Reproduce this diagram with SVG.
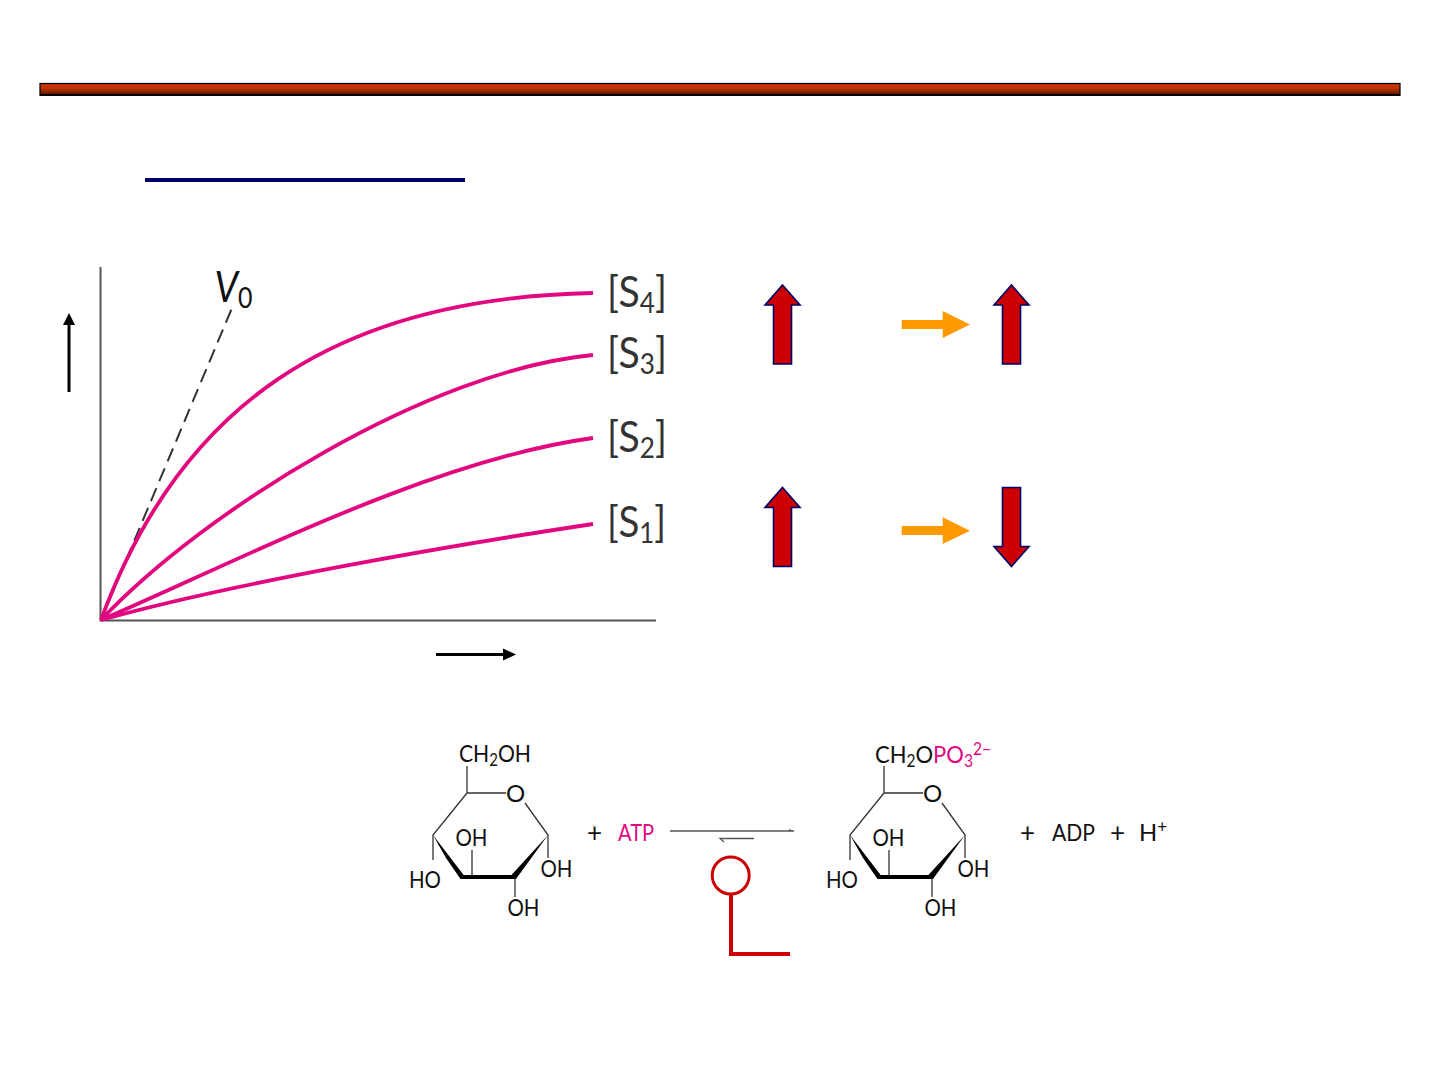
<svg xmlns="http://www.w3.org/2000/svg" width="1440" height="1080" viewBox="0 0 1440 1080">
<style>
.t{font-family:Lato,"Noto Sans","Liberation Sans",sans-serif;fill:#111}
.s{font-size:42px;fill:#333}
.c{font-size:24px}
.curve{fill:none;stroke:#e2067f;stroke-width:3.800}
.axis{fill:none;stroke:#555;stroke-width:2}
.bond{fill:none;stroke:#333;stroke-width:1.300}
.bold{fill:none;stroke:#000;stroke-width:4;stroke-linejoin:round}
.red{fill:#cc0000;stroke:#000066;stroke-width:1.600}
.or{fill:#ff9900}
</style>
<defs>
<linearGradient id="barG" x1="0" y1="0" x2="0" y2="1"><stop offset="0" stop-color="#cc3300"/><stop offset="0.4" stop-color="#c83200"/><stop offset="1" stop-color="#5a1e00"/></linearGradient>
<g id="ring">
<path class="bond" d="M467 766V793H506M525 803L548 835V858M467 793L433 835V860M515 877V897M472 850V877"/>
<path fill="#000" d="M433 835L464 875.500V879H460.500L446 858ZM548 835L516 879L511 875.500Z"/>
<path class="bold" d="M462 877H515"/>
<text class="t c" x="506" y="802">O</text>
<text class="t c" x="455.500" y="846" textLength="32" lengthAdjust="spacingAndGlyphs">OH</text>
<text class="t c" x="409" y="888" textLength="32" lengthAdjust="spacingAndGlyphs">HO</text>
<text class="t c" x="540.500" y="877" textLength="32" lengthAdjust="spacingAndGlyphs">OH</text>
<text class="t c" x="507.500" y="916" textLength="32" lengthAdjust="spacingAndGlyphs">OH</text>
</g>
</defs>
<g id="title-bar"><rect x="40" y="83.500" width="1360" height="11" fill="url(#barG)" stroke="#000" stroke-width="1.200"/><rect x="39.500" y="94" width="1361" height="2" fill="#000"/></g>
<rect id="title-rule" x="145" y="178" width="320" height="4" fill="#000066"/>
<g id="graph">
<path class="axis" d="M100.500 267V620.500H656"/>
<path d="M101 620L232 308" fill="none" stroke="#333" stroke-width="2" stroke-dasharray="14 7.500"/>
<path class="curve" d="M101 620C178 410 330 298 593 293"/>
<path class="curve" d="M101 620C205 510 430 370 593 355"/>
<path class="curve" d="M101 620C230 565 430 460 593 438"/>
<path class="curve" d="M101 620C230 584 440 547 593 524"/>
<text class="t" x="214.500" y="302" font-size="42" font-style="italic" fill="#333" textLength="38" lengthAdjust="spacingAndGlyphs">V<tspan font-size="28" font-style="normal" dy="6">0</tspan></text>
<text class="t s" x="607" y="306.500" textLength="60" lengthAdjust="spacingAndGlyphs">[S<tspan font-size="28" dy="6">4</tspan><tspan dy="-6">]</tspan></text>
<text class="t s" x="607" y="367.500" textLength="60" lengthAdjust="spacingAndGlyphs">[S<tspan font-size="28" dy="6">3</tspan><tspan dy="-6">]</tspan></text>
<text class="t s" x="607" y="451.500" textLength="60" lengthAdjust="spacingAndGlyphs">[S<tspan font-size="28" dy="6">2</tspan><tspan dy="-6">]</tspan></text>
<text class="t s" x="607" y="536.500" textLength="59" lengthAdjust="spacingAndGlyphs">[S<tspan font-size="28" dy="6">1</tspan><tspan dy="-6">]</tspan></text>
</g>
<g id="connectors">
<path d="M69 392V322" stroke="#000" stroke-width="3" fill="none"/><path d="M63 325L69 313L75 325Z" fill="#000"/>
<path d="M436 654.500H505" stroke="#000" stroke-width="3" fill="none"/><path d="M503 648.500L516 654.500L503 660.500Z" fill="#000"/>
<path d="M670 831H794" stroke="#555" stroke-width="1.600" fill="none"/><path d="M789 829L794 831H789Z" fill="#555"/>
<path d="M754 838.500H720L724 842" stroke="#555" stroke-width="1.300" fill="none"/>
<path d="M901.700 320H942.700V311L970 324.500L942.700 338V329H901.700Z" class="or"/>
<path d="M901.700 526H942.700V517.300L970 530.700L942.700 544V535H901.700Z" class="or"/>
<circle cx="730.700" cy="875.500" r="18.500" fill="none" stroke="#cc0000" stroke-width="3"/>
<path d="M731 894V954H790" fill="none" stroke="#cc0000" stroke-width="4"/>
</g>
<g id="arrow-up-1"><path class="red" d="M782.500 285L800 305H791.500V364H773.500V305H765Z"/></g>
<g id="arrow-up-2"><path class="red" d="M1011.500 285L1029 305H1020.500V364H1002.500V305H994Z"/></g>
<g id="arrow-up-3"><path class="red" d="M782.500 487.500L800 507.500H791.500V566.500H773.500V507.500H765Z"/></g>
<g id="arrow-down-4"><path class="red" d="M1011.500 566.500L1029 546.500H1020.500V487.500H1002.500V546.500H994Z"/></g>
<g id="glucose">
<use href="#ring"/>
<text class="t c" x="459" y="762" textLength="72" lengthAdjust="spacingAndGlyphs">CH<tspan font-size="17" dy="4">2</tspan><tspan dy="-4">OH</tspan></text>
</g>
<g id="reagent-atp">
<text class="t" font-size="26" x="587" y="842">+</text>
<text class="t c" x="618" y="841" style="fill:#e2067f" textLength="36" lengthAdjust="spacingAndGlyphs">ATP</text>
</g>
<g id="g6p">
<use href="#ring" x="417"/>
<text class="t c" x="875" y="763" textLength="116" lengthAdjust="spacingAndGlyphs">CH<tspan font-size="17" dy="4">2</tspan><tspan dy="-4">O</tspan><tspan style="fill:#e2067f">PO<tspan font-size="17" dy="4">3</tspan><tspan font-size="17" dy="-12">2−</tspan></tspan></text>
</g>
<g id="products">
<text class="t" font-size="26" x="1020" y="842">+</text>
<text class="t c" x="1052" y="841" textLength="43" lengthAdjust="spacingAndGlyphs">ADP</text>
<text class="t" font-size="26" x="1110" y="842">+</text>
<text class="t c" x="1139" y="841" textLength="28" lengthAdjust="spacingAndGlyphs">H<tspan font-size="17" dy="-8">+</tspan></text>
</g>
</svg>
